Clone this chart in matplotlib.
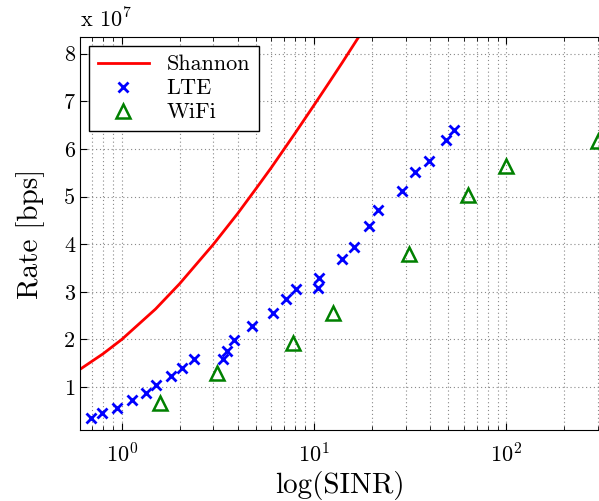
import matplotlib
matplotlib.use("Agg")
import matplotlib.pyplot as plt
from matplotlib.ticker import FuncFormatter, LogLocator, NullFormatter

plt.rcParams['font.family'] = 'cmr10'
plt.rcParams['mathtext.fontset'] = 'cm'
plt.rcParams['axes.formatter.use_mathtext'] = True

# Shannon bound
shannon_x = [0.6, 0.8, 1.0, 1.5, 2.0, 3.0, 4.0, 5.0, 6.0, 8.0, 10.0, 12.0, 14.0, 17.0]
shannon_y = [1.36e7, 1.70e7, 2.00e7, 2.64e7, 3.17e7, 4.00e7, 4.64e7, 5.17e7, 5.61e7,
             6.34e7, 6.92e7, 7.40e7, 7.81e7, 8.34e7]

lte_x = [0.69, 0.79, 0.95, 1.13, 1.33, 1.50, 1.80, 2.06, 2.38, 3.36, 3.54, 3.85,
         4.77, 6.11, 7.12, 8.03, 10.5, 10.6, 13.9, 16.2, 19.3, 21.6, 28.6, 33.6,
         39.4, 48.5, 53.1]
lte_y = [0.36e7, 0.46e7, 0.57e7, 0.72e7, 0.88e7, 1.04e7, 1.23e7, 1.41e7, 1.59e7,
         1.59e7, 1.75e7, 1.98e7, 2.29e7, 2.56e7, 2.84e7, 3.06e7, 3.08e7, 3.29e7,
         3.68e7, 3.94e7, 4.39e7, 4.71e7, 5.11e7, 5.51e7, 5.74e7, 6.18e7, 6.39e7]

wifi_x = [1.58, 3.14, 7.8, 12.5, 31.2, 62.9, 99.6, 300]
wifi_y = [0.67e7, 1.30e7, 1.93e7, 2.56e7, 3.80e7, 5.04e7, 5.64e7, 6.16e7]

fig = plt.figure(figsize=(5.99, 5.01), dpi=100)
ax = fig.add_axes([80 / 599, 71 / 501, 519 / 599, 393 / 501])

ax.plot(shannon_x, shannon_y, '-', color='red', lw=2, label='Shannon')
ax.plot(lte_x, lte_y, 'x', color='blue', ms=7, mew=2, ls='none', label='LTE')
ax.plot(wifi_x, wifi_y, '^', color='green', mfc='none', ms=10, mew=1.8, ls='none',
        label='WiFi', clip_on=False)

ax.set_xscale('log')
ax.set_xlim(0.607, 303)
ax.set_ylim(0.1e7, 8.35e7)
ax.set_yticks([1e7, 2e7, 3e7, 4e7, 5e7, 6e7, 7e7, 8e7])
ax.yaxis.set_major_formatter(FuncFormatter(lambda v, p: '%d' % round(v / 1e7)))
ax.xaxis.set_minor_locator(LogLocator(base=10, subs=range(2, 10)))
ax.xaxis.set_minor_formatter(NullFormatter())

ax.grid(True, which='major', ls=(0, (1, 2.5)), color='#888888', lw=0.8)
ax.grid(True, which='minor', axis='x', ls=(0, (1, 2.5)), color='#888888', lw=0.8)
ax.tick_params(which='both', direction='in', top=True, right=False, labelsize=16)
ax.tick_params(which='major', length=5)
ax.tick_params(which='minor', length=3)
ax.tick_params(axis='x', pad=9)
ax.spines['right'].set_visible(False)

ax.set_xlabel('log(SINR)', fontsize=21, labelpad=3)
ax.set_ylabel('Rate [bps]', fontsize=21, labelpad=14)
fig.text(80 / 599, 1 - 27 / 501, r'x $10^7$', fontsize=16, va='baseline')

leg = ax.legend(loc='upper left', fontsize=16, fancybox=False, edgecolor='black',
                framealpha=1, borderaxespad=0.4, handlelength=2.3, labelspacing=0.2)
leg.get_frame().set_linewidth(1.0)

fig.savefig('out.png', dpi=100)
